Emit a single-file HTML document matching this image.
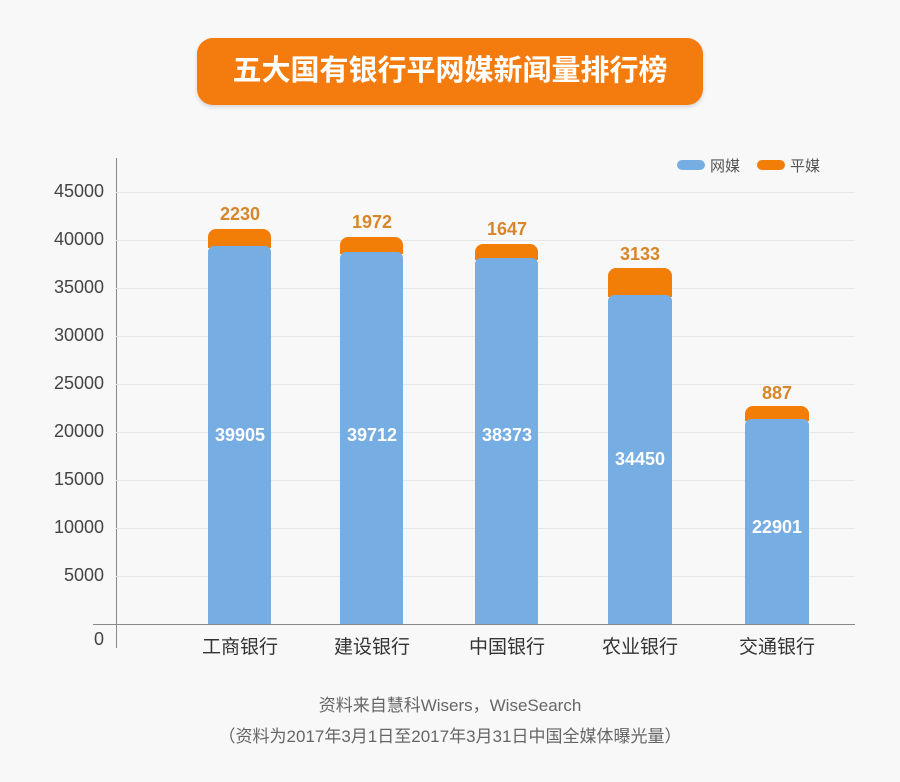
<!DOCTYPE html>
<html><head><meta charset="utf-8"><style>
body{margin:0;width:900px;height:782px;background:#f8f8f9;font-family:"Liberation Sans","Noto Sans CJK SC",sans-serif;position:relative;overflow:hidden}
.a{position:absolute}
.t{left:197px;top:38px;width:506px;height:67px;background:#f47c0f;border-radius:16px;color:#fff;font-size:29px;font-weight:bold;text-align:center;line-height:67px;box-shadow:0 2px 4px rgba(0,0,0,.15)}
.g{left:116px;width:739px;height:1px;background:#e6e6e8}
.yl{left:20px;width:84px;text-align:right;font-size:18px;color:#444}
.b{background:#76ade3}
.o{background:#f27e08;border-radius:8px 8px 0 0}
.ol{color:#d8862a;font-weight:bold;font-size:18px;text-align:center;width:100px}
.bl{color:#fff;font-weight:bold;font-size:18px;text-align:center;width:100px}
.xl{font-size:19px;color:#333;text-align:center;width:120px;top:632px}
.f{width:900px;text-align:center;font-size:17px;color:#666;left:0}
</style></head><body>
<div class="a t">五大国有银行平网媒新闻量排行榜</div>
<div class="a" style="left:116px;top:158px;width:1px;height:490px;background:#888"></div>
<div class="a" style="left:93px;top:624px;width:762px;height:1px;background:#888"></div>
<div class="a g" style="top:192px"></div><div class="a g" style="top:240px"></div><div class="a g" style="top:288px"></div><div class="a g" style="top:336px"></div><div class="a g" style="top:384px"></div><div class="a g" style="top:432px"></div><div class="a g" style="top:480px"></div><div class="a g" style="top:528px"></div><div class="a g" style="top:576px"></div>
<div class="a yl" style="top:181px">45000</div><div class="a yl" style="top:229px">40000</div><div class="a yl" style="top:277px">35000</div><div class="a yl" style="top:325px">30000</div><div class="a yl" style="top:373px">25000</div><div class="a yl" style="top:421px">20000</div><div class="a yl" style="top:469px">15000</div><div class="a yl" style="top:517px">10000</div><div class="a yl" style="top:565px">5000</div><div class="a yl" style="top:629px">0</div>
<div class="a" style="left:677px;top:160px;width:28px;height:10px;border-radius:5px;background:#76ade3"></div><div class="a" style="left:710px;top:155px;font-size:15px;color:#555">网媒</div>
<div class="a" style="left:757px;top:160px;width:28px;height:10px;border-radius:5px;background:#f27e08"></div><div class="a" style="left:790px;top:155px;font-size:15px;color:#555">平媒</div>

<div class="a o" style="left:208px;top:229px;width:63px;height:19px"></div><div class="a b" style="left:208px;top:246px;width:63px;height:378px;border-radius:6px 6px 0 0"></div>
<div class="a ol" style="left:190px;top:204px">2230</div><div class="a bl" style="left:190px;top:425px">39905</div>
<div class="a o" style="left:340px;top:237px;width:63px;height:17px"></div><div class="a b" style="left:340px;top:252px;width:63px;height:372px;border-radius:6px 6px 0 0"></div>
<div class="a ol" style="left:322px;top:212px">1972</div><div class="a bl" style="left:322px;top:425px">39712</div>
<div class="a o" style="left:475px;top:244px;width:63px;height:16px"></div><div class="a b" style="left:475px;top:258px;width:63px;height:366px;border-radius:6px 6px 0 0"></div>
<div class="a ol" style="left:457px;top:219px">1647</div><div class="a bl" style="left:457px;top:425px">38373</div>
<div class="a o" style="left:608px;top:268px;width:64px;height:29px"></div><div class="a b" style="left:608px;top:295px;width:64px;height:329px;border-radius:6px 6px 0 0"></div>
<div class="a ol" style="left:590px;top:244px">3133</div><div class="a bl" style="left:590px;top:449px">34450</div>
<div class="a o" style="left:745px;top:406px;width:64px;height:15px"></div><div class="a b" style="left:745px;top:419px;width:64px;height:205px;border-radius:6px 6px 0 0"></div>
<div class="a ol" style="left:727px;top:383px">887</div><div class="a bl" style="left:727px;top:517px">22901</div>

<div class="a xl" style="left:180px">工商银行</div><div class="a xl" style="left:312px">建设银行</div><div class="a xl" style="left:447px">中国银行</div><div class="a xl" style="left:580px">农业银行</div><div class="a xl" style="left:717px">交通银行</div>
<div class="a f" style="top:691px">资料来自慧科Wisers，WiseSearch</div>
<div class="a f" style="top:722px">（资料为2017年3月1日至2017年3月31日中国全媒体曝光量）</div>
</body></html>
